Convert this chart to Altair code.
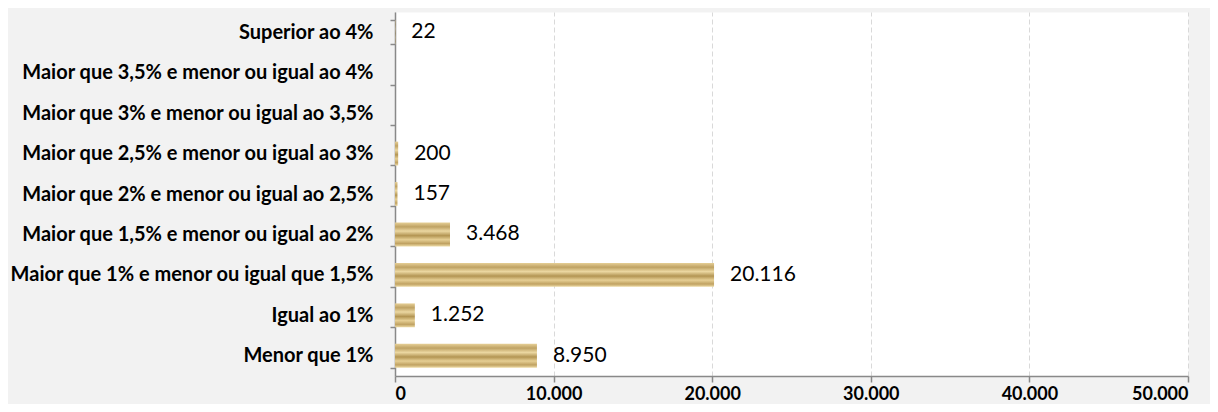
import altair as alt
import pandas as pd

categories = [
    "Superior ao 4%",
    "Maior que 3,5% e menor ou igual ao 4%",
    "Maior que 3% e menor ou igual ao 3,5%",
    "Maior que 2,5% e menor ou igual ao 3%",
    "Maior que 2% e menor ou igual ao 2,5%",
    "Maior que 1,5% e menor ou igual ao 2%",
    "Maior que 1% e menor ou igual que 1,5%",
    "Igual ao 1%",
    "Menor que 1%",
]
values = [22, None, None, 200, 157, 3468, 20116, 1252, 8950]
x_ticks = [0, 10000, 20000, 30000, 40000, 50000]

df = pd.DataFrame({"cat": categories, "value": values})

grad = alt.Gradient(
    gradient="linear",
    x1=0, y1=0, x2=0, y2=1,
    stops=[
        alt.GradientStop(color="#e6cf96", offset=0.0),
        alt.GradientStop(color="#bfa263", offset=0.18),
        alt.GradientStop(color="#ebd7a1", offset=0.36),
        alt.GradientStop(color="#b39553", offset=0.55),
        alt.GradientStop(color="#e6cf94", offset=0.72),
        alt.GradientStop(color="#c0a262", offset=0.88),
        alt.GradientStop(color="#eddaa4", offset=1.0),
    ],
)

FONT = "Lato"

base = alt.Chart(df).transform_calculate(
    label="replace(format(datum.value, ','), ',', '.')"
)

x_enc = alt.X(
    "value:Q",
    title=None,
    scale=alt.Scale(domain=[0, 50000], nice=False),
    axis=alt.Axis(
        values=x_ticks,
        labelExpr="replace(format(datum.value, ','), ',', '.')",
        labelFont=FONT,
        labelFontSize=18,
        labelFontWeight="bold",
        labelColor="#000000",
        labelPadding=3,
        grid=True,
        gridColor="#d9d9d9",
        gridDash=[5, 3],
        gridWidth=1,
        domainColor="#898989",
        domainWidth=1.5,
        tickColor="#898989",
        tickSize=6,
        tickWidth=1.5,
    ),
)

y_enc = alt.Y(
    "cat:N",
    title=None,
    sort=categories,
    scale=alt.Scale(paddingInner=0.41, paddingOuter=0.205),
    axis=alt.Axis(
        tickBand="extent",
        labelFont=FONT,
        labelFontSize=20,
        labelFontWeight="bold",
        labelColor="#000000",
        labelPadding=17,
        labelLimit=500,
        domainColor="#898989",
        domainWidth=1.5,
        tickColor="#898989",
        tickSize=5,
        tickWidth=1.5,
        grid=False,
    ),
)

bars = base.mark_bar(color=grad).encode(x=x_enc, y=y_enc)

text = base.mark_text(
    align="left", baseline="middle", dx=16, font=FONT, fontSize=21, color="#000000"
).encode(x=alt.X("value:Q"), y=alt.Y("cat:N", sort=categories), text="label:N")

chart = (
    alt.layer(bars, text)
    .properties(
        width=793,
        height=364,
        background="#f2f2f2",
        autosize=alt.AutoSizeParams(type="none"),
        padding={"left": 387, "top": 4, "right": 22, "bottom": 28},
    )
    .configure_view(fill="#ffffff", stroke="transparent")
)

chart.save("out.html", embed_options={"renderer": "svg", "actions": False})
